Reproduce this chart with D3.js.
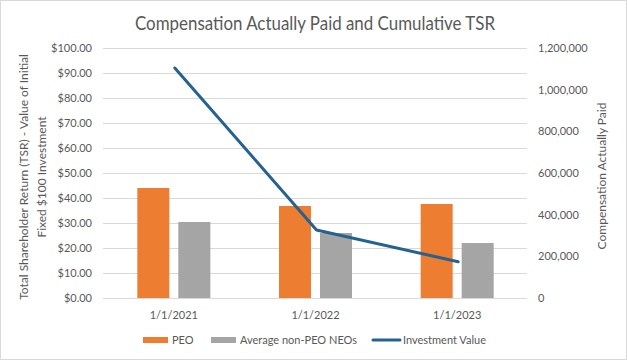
<!DOCTYPE html>
<html><head><meta charset="utf-8">
<script src="https://cdn.jsdelivr.net/npm/d3@7"></script>
<style>
html,body{margin:0;padding:0;background:#fff;}
svg{display:block;font-family:Lato,"Open Sans",sans-serif;}
</style></head>
<body>
<svg id="c" width="627" height="360"></svg>
<script>
const categories = ["1/1/2021", "1/1/2022", "1/1/2023"];
const peo = [528000, 441600, 451200];
const nonPeo = [364800, 312000, 264000];
const investment = [92.0, 27.2, 14.5];
const leftTicks = [0,10,20,30,40,50,60,70,80,90,100];
const rightTicks = [0,200000,400000,600000,800000,1000000,1200000];
const seriesNames = ["PEO", "Average non-PEO NEOs", "Investment Value"];
const colors = ["#ED7D31", "#A5A5A5", "#24628F"];

const svg = d3.select("#c");
const W = 627, H = 360;
const m = {l:103, r:100, t:48, b:62};
const x0 = m.l, x1 = W - m.r, y0 = H - m.b, y1 = m.t;

svg.append("rect").attr("x",0.5).attr("y",0.5).attr("width",W-1).attr("height",H-1)
  .attr("fill","#fff").attr("stroke","#d9d9d9");

const x = d3.scaleBand().domain(categories).range([x0, x1+1]);
const yL = d3.scaleLinear().domain([0,100]).range([y0, y1]);
const yR = d3.scaleLinear().domain([0,1200000]).range([y0, y1]);

// gridlines
svg.append("g").selectAll("line").data(leftTicks).join("line")
  .attr("x1",x0).attr("x2",x1).attr("y1",d=>Math.round(yL(d))+0.5).attr("y2",d=>Math.round(yL(d))+0.5)
  .attr("stroke","#d9d9d9").attr("stroke-width",1);

// left axis
const axL = d3.axisLeft(yL).tickValues(leftTicks).tickSize(0).tickPadding(11)
  .tickFormat(d=>"$"+d3.format(".2f")(d));
const gL = svg.append("g").attr("transform",`translate(${x0},0)`).call(axL);
gL.select(".domain").remove();
gL.selectAll("text").attr("fill","#595959").style("font-size","11px").style("font-family","Lato");

// right axis
const axR = d3.axisRight(yR).tickValues(rightTicks).tickSize(0).tickPadding(11)
  .tickFormat(d3.format(","));
const gR = svg.append("g").attr("transform",`translate(${x1},0)`).call(axR);
gR.select(".domain").remove();
gR.selectAll("text").attr("fill","#595959").style("font-size","11px").style("font-family","Lato");

// bars
const bw = 32, gap = 9;
const groups = svg.append("g");
categories.forEach((c,i)=>{
  const cx = x(c) + x.bandwidth()/2;
  groups.append("rect").attr("x", cx - gap/2 - bw).attr("width", bw)
    .attr("y", yR(peo[i])).attr("height", y0 - yR(peo[i])).attr("fill", colors[0]);
  groups.append("rect").attr("x", cx + gap/2).attr("width", bw)
    .attr("y", yR(nonPeo[i])).attr("height", y0 - yR(nonPeo[i])).attr("fill", colors[1]);
});

// x axis baseline
svg.append("line").attr("x1",x0).attr("x2",x1).attr("y1",y0+0.5).attr("y2",y0+0.5).attr("stroke","#d9d9d9");

// x labels
const axB = d3.axisBottom(x).tickSize(0).tickPadding(13);
const gB = svg.append("g").attr("transform",`translate(0,${y0})`).call(axB);
gB.select(".domain").remove();
gB.selectAll("text").attr("fill","#595959").style("font-size","11px").style("font-family","Lato");

// line
const line = d3.line().x((d,i)=>x(categories[i]) + x.bandwidth()/2 + 1).y(d=>yL(d));
svg.append("path").datum(investment).attr("d", line).attr("fill","none")
  .attr("stroke", colors[2]).attr("stroke-width",3).attr("stroke-linecap","round").attr("stroke-linejoin","round");

// title
svg.append("text").attr("x", 135).attr("y", 30)
  .attr("textLength", 360).attr("lengthAdjust","spacingAndGlyphs")
  .attr("fill","#595959").style("font-size","19px").style("font-family","Lato")
  .text("Compensation Actually Paid and Cumulative TSR");

// left axis title
const lt = svg.append("text").attr("transform","translate(28,177) rotate(-90)").attr("text-anchor","middle")
  .attr("fill","#595959").style("font-size","12px").style("font-family","Lato");
lt.append("tspan").attr("x",0).attr("dy",0).text("Total Shareholder Return (TSR) - Value of Initial");
lt.append("tspan").attr("x",0).attr("dy",18).text("Fixed $100 Investment");

// right axis title
svg.append("text").attr("transform","translate(606,176) rotate(-90)").attr("text-anchor","middle")
  .attr("fill","#595959").style("font-size","12px").style("font-family","Lato")
  .text("Compensation Actually Paid");

// legend
const lg = svg.append("g").style("font-size","11px").style("font-family","Lato");
const items = [
  {sx:143, tx:172, type:"rect"},
  {sx:211, tx:240, type:"rect"},
  {sx:373, tx:403, type:"line"}
];
items.forEach((it,i)=>{
  if(it.type==="rect"){
    lg.append("rect").attr("x",it.sx).attr("y",337).attr("width",25).attr("height",6).attr("fill",colors[i]);
  } else {
    lg.append("line").attr("x1",it.sx).attr("x2",it.sx+27).attr("y1",340).attr("y2",340)
      .attr("stroke",colors[i]).attr("stroke-width",3).attr("stroke-linecap","round");
  }
  lg.append("text").attr("x",it.tx).attr("y",340).attr("dy","0.35em").attr("fill","#595959").text(seriesNames[i]);
});
</script>
</body></html>
